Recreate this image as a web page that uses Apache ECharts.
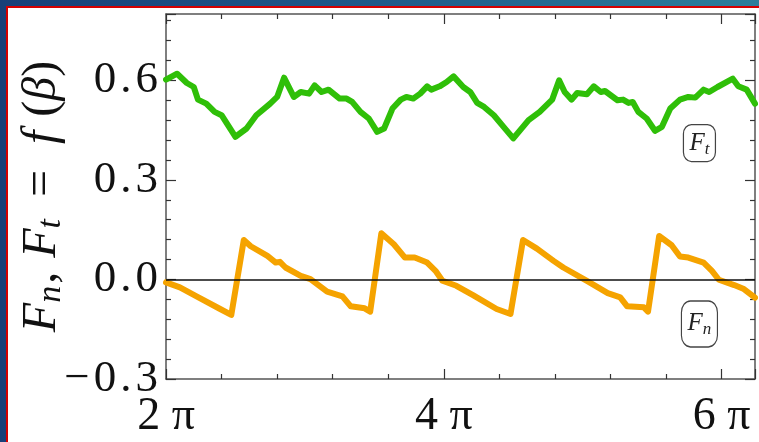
<!DOCTYPE html>
<html>
<head>
<meta charset="utf-8">
<script src="https://cdn.jsdelivr.net/npm/echarts@6/dist/echarts.min.js"></script>
<style>
html,body{margin:0;padding:0;width:759px;height:442px;overflow:hidden;
 background:linear-gradient(90deg,#173f78 0%,#1f5a8a 50%,#2c7f9c 100%);}
#panel{position:absolute;left:6px;top:6px;right:0;bottom:0;background:#fff;
 border-top:2px solid #d40000;border-left:2px solid #d40000;}
#chart{position:absolute;left:0;top:0;width:759px;height:442px;}
</style>
</head>
<body>
<div id="panel"></div>
<div id="chart"></div>
<script>
// x values in units of pi
const fnX = [2.00,2.10,2.22,2.39,2.47,2.56,2.61,2.73,2.79,2.82,2.86,2.97,3.04,3.16,3.27,3.33,3.43,3.47,3.55,3.64,3.72,3.79,3.88,3.94,3.99,4.09,4.21,4.38,4.48,4.57,4.67,4.79,4.86,5.03,5.18,5.27,5.32,5.44,5.47,5.55,5.64,5.70,5.76,5.87,5.93,5.98,6.09,6.16,6.24];
const fnY = [-0.009,-0.024,-0.051,-0.089,-0.107,0.119,0.100,0.071,0.051,0.053,0.036,0.011,0.001,-0.037,-0.051,-0.081,-0.087,-0.097,0.139,0.106,0.066,0.066,0.051,0.026,-0.004,-0.019,-0.047,-0.089,-0.104,0.119,0.093,0.056,0.036,-0.004,-0.041,-0.054,-0.081,-0.084,-0.097,0.131,0.103,0.069,0.066,0.051,0.026,-0.001,-0.017,-0.029,-0.055];
const ftX = [2.00,2.08,2.15,2.20,2.23,2.29,2.35,2.40,2.50,2.58,2.65,2.75,2.80,2.85,2.92,2.97,3.03,3.07,3.12,3.17,3.25,3.30,3.34,3.40,3.46,3.52,3.57,3.63,3.69,3.73,3.78,3.83,3.88,3.91,3.97,4.02,4.07,4.14,4.19,4.24,4.29,4.36,4.43,4.50,4.61,4.69,4.78,4.83,4.87,4.92,4.96,5.03,5.08,5.13,5.16,5.25,5.29,5.33,5.36,5.40,5.46,5.52,5.57,5.63,5.70,5.76,5.81,5.87,5.91,5.97,6.08,6.12,6.18,6.24];
const ftY = [0.602,0.620,0.592,0.580,0.542,0.530,0.505,0.495,0.430,0.455,0.495,0.530,0.550,0.608,0.550,0.565,0.560,0.585,0.565,0.572,0.545,0.545,0.535,0.505,0.485,0.445,0.455,0.515,0.542,0.550,0.545,0.560,0.582,0.572,0.582,0.595,0.612,0.580,0.565,0.532,0.520,0.495,0.460,0.425,0.480,0.505,0.542,0.600,0.565,0.542,0.562,0.558,0.582,0.565,0.568,0.540,0.542,0.532,0.535,0.505,0.485,0.448,0.460,0.515,0.542,0.550,0.548,0.572,0.565,0.580,0.605,0.582,0.572,0.530];
const xTicks = [2,4,6];
const xTickLabels = ['2 π','4 π','6 π'];
const yTicks = [-0.3,0.0,0.3,0.6];
const yTickLabels = ['\u22120.3','0.0','0.3','0.6'];
const xMin = 2, xMax = 6.24, yMin = -0.3, yMax = 0.8;
const labelFt = {x:5.84, y:0.411, sub:'t'};
const labelFn = {x:5.84, y:-0.134, sub:'n'};

const pair = (xs, ys) => xs.map((x,i)=>[x, ys[i]]);
const serif = '"Liberation Serif","DejaVu Serif",serif';
const axisColor = '#555';

function xFmt(v){ const i = xTicks.findIndex(t=>Math.abs(t-v)<1e-6); return i<0?'':xTickLabels[i]; }
function yFmt(v){
  const i = yTicks.findIndex(t=>Math.abs(t-v)<1e-6);
  if(i<0) return '';
  return yTickLabels[i].split('').map(c=>'{d|'+c+'}').join('');
}

function baseAxis(extra){
  return Object.assign({
    type:'value',
    axisLine:{show:true,onZero:false,lineStyle:{color:axisColor,width:1.5}},
    axisTick:{show:true,inside:true,length:10,lineStyle:{color:'#333',width:1.2}},
    minorTick:{show:true,splitNumber:5,length:5,lineStyle:{color:'#333',width:1.2}},
    splitLine:{show:false}
  }, extra);
}

function boxLabel(sub, w, h){
  return {
    symbol:'roundRect', symbolSize:[w,h],
    itemStyle:{color:'#fff',borderColor:'#444',borderWidth:1.3},
    label:{show:true,formatter:'{f|F}{s|'+sub+'}',
      rich:{f:{fontFamily:serif,fontStyle:'italic',fontSize:25,color:'#222'},
            s:{fontFamily:serif,fontStyle:'italic',fontSize:17,color:'#222',padding:[12,0,0,0]}}}
  };
}

const chart = echarts.init(document.getElementById('chart'), null, {renderer:'canvas'});
chart.setOption({
  backgroundColor:'transparent',
  animation:false,
  grid:{left:166,top:14,right:4,bottom:63,containLabel:false,outerBoundsMode:'none'},
  xAxis:[
    baseAxis({min:xMin,max:xMax,interval:2,position:'bottom',
      axisLabel:{show:true,formatter:xFmt,margin:15,color:'#111',fontFamily:serif,fontSize:46,showMaxLabel:false}}),
    baseAxis({min:xMin,max:xMax,interval:2,position:'top',axisLabel:{show:false}})
  ],
  yAxis:[
    baseAxis({min:yMin,max:yMax,interval:0.3,position:'left',
      name:'{i|F}{s|n}{c|,}{i|F}{s|t}{e|=}{f|f}{r|(}{i|β}{r|)}',
      nameLocation:'middle',nameRotate:90,nameGap:98,nameMoveOverlap:false,
      nameTextStyle:{rich:{
        i:{fontFamily:serif,fontStyle:'italic',fontSize:48,color:'#111'},
        f:{fontFamily:serif,fontStyle:'italic',fontSize:48,color:'#111',padding:[0,14,0,0]},
        r:{fontFamily:serif,fontSize:48,color:'#111'},
        c:{fontFamily:serif,fontSize:48,color:'#111',padding:[0,14,0,0]},
        e:{fontFamily:serif,fontSize:48,color:'#111',padding:[0,26,0,20]},
        s:{fontFamily:serif,fontStyle:'italic',fontSize:34,color:'#111',padding:[18,2,0,0]}}},
      axisLabel:{show:true,formatter:yFmt,margin:6,
        rich:{d:{color:'#111',fontFamily:serif,fontSize:45,padding:[0,2,0,2]}},
        showMaxLabel:false}}),
    baseAxis({min:yMin,max:yMax,interval:0.3,position:'right',axisLabel:{show:false}})
  ],
  series:[
    {type:'line',name:'Fn',data:pair(fnX,fnY),showSymbol:false,smooth:false,
     lineStyle:{color:'#f5a300',width:6,join:'round',cap:'round'},z:3,
     markLine:{silent:true,symbol:'none',label:{show:false},
       lineStyle:{color:'#111',width:1.5,type:'solid'},data:[{yAxis:0}],z:4},
     markPoint:{silent:true,data:[Object.assign({coord:[labelFn.x,labelFn.y]},boxLabel(labelFn.sub,36,46))]}},
    {type:'line',name:'Ft',data:pair(ftX,ftY),showSymbol:false,smooth:false,
     lineStyle:{color:'#2fbf08',width:6,join:'round',cap:'round'},z:3,
     markPoint:{silent:true,data:[Object.assign({coord:[labelFt.x,labelFt.y]},boxLabel(labelFt.sub,32,37))]}}
  ]
});
</script>
</body>
</html>
